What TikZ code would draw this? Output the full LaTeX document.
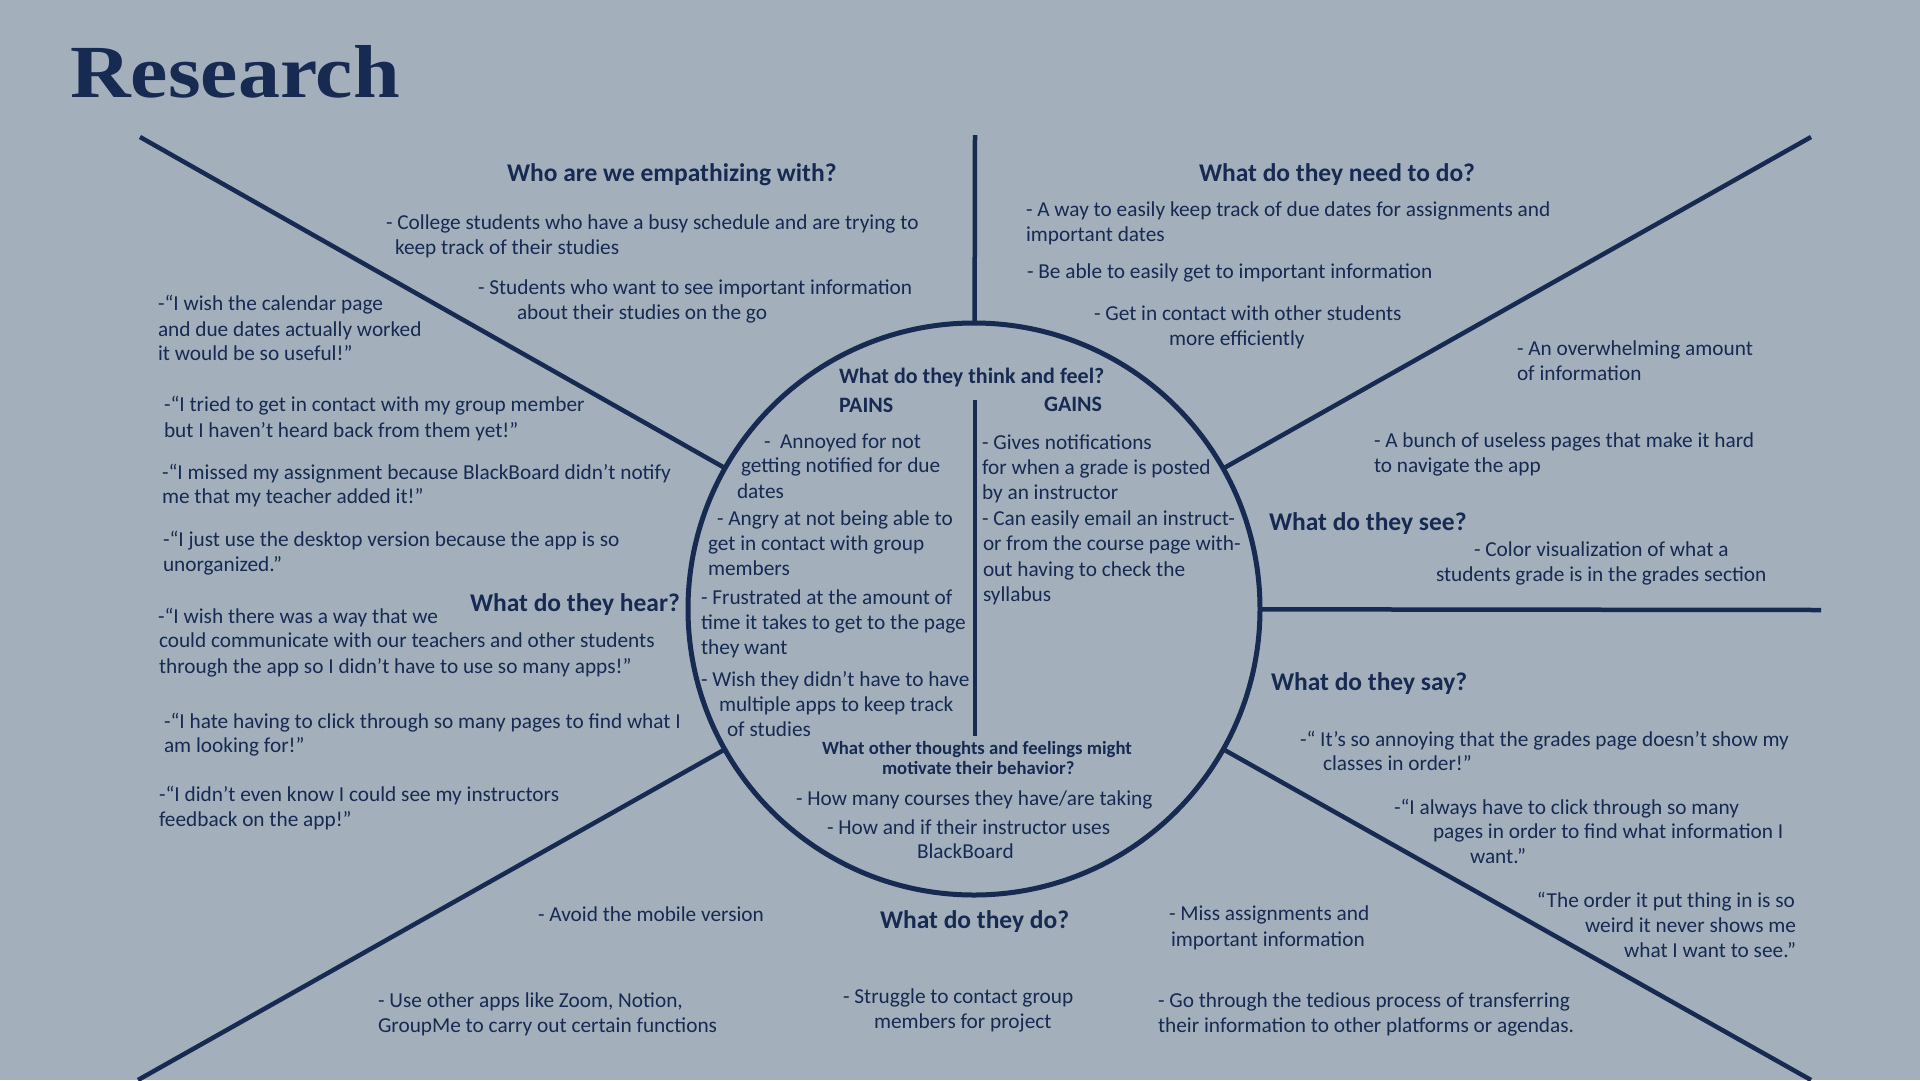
\documentclass[tikz,border=0pt]{standalone}
\usepackage{graphicx}
\usepackage{fontspec}
\setmainfont{Carlito}
\newfontfamily\titlefont{Liberation Serif}
\definecolor{bg}{RGB}{163,176,187}
\definecolor{navy}{RGB}{22,42,82}
\begin{document}
\begin{tikzpicture}[x=1pt,y=-1pt,
  tx/.style={anchor=base west,inner sep=0pt,outer sep=0pt,text=navy,font=\fontsize{21.3}{24}\selectfont},
  txr/.style={tx,anchor=base east},
  hd/.style={tx,font=\fontsize{25.5}{30}\selectfont\bfseries},
  hdc/.style={tx,font=\fontsize{22}{26}\selectfont\bfseries},
  hds/.style={tx,font=\fontsize{18.7}{22}\selectfont\bfseries},
  spoke/.style={draw=navy,line width=4.5pt},
]
\fill[bg] (0,0) rectangle (1920,1080);
\useasboundingbox (0,0) rectangle (1920,1080);

% title
\node[anchor=base west,inner sep=0pt,text=navy] (title) at (70,97.5)
  {\scalebox{1.12}[1]{\titlefont\bfseries\fontsize{75}{80}\selectfont Research}};

% central circle and spokes
\node[circle,draw=navy,line width=5pt,minimum size=572pt,inner sep=0pt,outer sep=0pt] (C) at (974,609) {};
\coordinate (eTop) at (975,135);
\coordinate (eUL) at (140,137);
\coordinate (eUR) at (1811,137);
\coordinate (eR) at (1821,610);
\coordinate (eLL) at (138,1080);
\coordinate (eLR) at (1811,1080);
\draw[spoke] (C) -- (eTop);
\draw[spoke] (C) -- (eUL);
\draw[spoke] (C) -- (eUR);
\draw[spoke] (C) -- (eR);
\draw[spoke] (C) -- (eLL);
\draw[spoke] (C) -- (eLR);
\coordinate (dA) at (975,400);
\coordinate (dB) at (975,736);
\draw[draw=navy,line width=3.5pt] (dA) -- (dB);

% headings
\node[hd] (hWho) at (507,181) {Who are we empathizing with?};
\node[hd] (hNeed) at (1199,181) {What do they need to do?};
\node[hd] (hSee) at (1269,530) {What do they see?};
\node[hd] (hHear) at (470,611) {What do they hear?};
\node[hd] (hSay) at (1271,690) {What do they say?};
\node[hd] (hDo) at (880,928) {What do they do?};
\node[hdc] (hThink) at (839,383) {What do they think and feel?};
\node[hdc] (hPains) at (839,412) {PAINS};
\node[hdc] (hGains) at (1044,411) {GAINS};
\node[hds] (hOther1) at (822,754) {What other thoughts and feelings might};
\node[hds] (hOther2) at (882,774) {motivate their behavior?};

% top: who
\node[tx] (w1) at (386,229) {- College students who have a busy schedule and are trying to};
\node[tx] (w2) at (395,254) {keep track of their studies};
\node[tx] (w3) at (478,294) {- Students who want to see important information};
\node[tx] (w4) at (517,319) {about their studies on the go};

% top: need
\node[tx] (n1) at (1026,216) {- A way to easily keep track of due dates for assignments and};
\node[tx] (n2) at (1026,241) {important dates};
\node[tx] (n3) at (1027,278) {- Be able to easily get to important information};
\node[tx] (n4) at (1094,320) {- Get in contact with other students};
\node[tx] (n5) at (1169,345) {more efficiently};

% right: see
\node[tx] (s1) at (1517,355) {- An overwhelming amount};
\node[tx] (s2) at (1517,380) {of information};
\node[tx] (s3) at (1374,447) {- A bunch of useless pages that make it hard};
\node[tx] (s4) at (1374,472) {to navigate the app};
\node[tx] (s5) at (1474,556) {- Color visualization of what a};
\node[tx] (s6) at (1436,581) {students grade is in the grades section};

% right: say
\node[tx] (y1) at (1300,746) {-“ It’s so annoying that the grades page doesn’t show my};
\node[tx] (y2) at (1323,770) {classes in order!”};
\node[tx] (y3) at (1394,814) {-“I always have to click through so many};
\node[tx] (y4) at (1433,838) {pages in order to find what information I};
\node[tx] (y5) at (1470,863) {want.”};
\node[txr] (y6) at (1795,907) {“The order it put thing in is so};
\node[txr] (y7) at (1796,932) {weird it never shows me};
\node[txr] (y8) at (1796,957) {what I want to see.”};

% bottom: do
\node[tx] (d1) at (538,921) {- Avoid the mobile version};
\node[tx] (d2) at (378,1007) {- Use other apps like Zoom, Notion,};
\node[tx] (d3) at (378,1032) {GroupMe to carry out certain functions};
\node[tx] (d4) at (843,1003) {- Struggle to contact group};
\node[tx] (d5) at (874,1028) {members for project};
\node[tx] (d6) at (1169,920) {- Miss assignments and};
\node[tx] (d7) at (1171,946) {important information};
\node[tx] (d8) at (1158,1007) {- Go through the tedious process of transferring};
\node[tx] (d9) at (1158,1032) {their information to other platforms or agendas.};

% left: hear
\node[tx] (h1) at (158,310) {-“I wish the calendar page};
\node[tx] (h2) at (158,336) {and due dates actually worked};
\node[tx] (h3) at (158,360) {it would be so useful!”};
\node[tx] (h4) at (164,411) {-“I tried to get in contact with my group member};
\node[tx] (h5) at (164,437) {but I haven’t heard back from them yet!”};
\node[tx] (h6) at (162,479) {-“I missed my assignment because BlackBoard didn’t notify};
\node[tx] (h7) at (162,503) {me that my teacher added it!”};
\node[tx] (h8) at (163,546) {-“I just use the desktop version because the app is so};
\node[tx] (h9) at (163,571) {unorganized.”};
\node[tx] (h10) at (158,623) {-“I wish there was a way that we};
\node[tx] (h11) at (159,647) {could communicate with our teachers and other students};
\node[tx] (h12) at (159,673) {through the app so I didn’t have to use so many apps!”};
\node[tx] (h13) at (164,728) {-“I hate having to click through so many pages to find what I};
\node[tx] (h14) at (164,752) {am looking for!”};
\node[tx] (h15) at (159,801) {-“I didn’t even know I could see my instructors};
\node[tx] (h16) at (159,826) {feedback on the app!”};

% circle: pains
\node[tx] (p1) at (764,448) {-\ \ Annoyed for not};
\node[tx] (p2) at (741,472) {getting notified for due};
\node[tx] (p3) at (737,498) {dates};
\node[tx] (p4) at (717,525) {- Angry at not being able to};
\node[tx] (p5) at (708,550) {get in contact with group};
\node[tx] (p6) at (708,575) {members};
\node[tx] (p7) at (701,604) {- Frustrated at the amount of};
\node[tx] (p8) at (701,629) {time it takes to get to the page};
\node[tx] (p9) at (701,654) {they want};
\node[tx] (p10) at (701,686) {- Wish they didn’t have to have};
\node[tx] (p11) at (719,711) {multiple apps to keep track};
\node[tx] (p12) at (727,736) {of studies};

% circle: gains
\node[tx] (g1) at (982,449) {- Gives notifications};
\node[tx] (g2) at (982,474) {for when a grade is posted};
\node[tx] (g3) at (982,499) {by an instructor};
\node[tx] (g4) at (982,525) {- Can easily email an instruct-};
\node[tx] (g5) at (983,550) {or from the course page with-};
\node[tx] (g6) at (983,576) {out having to check the};
\node[tx] (g7) at (983,601) {syllabus};

% circle: other
\node[tx] (o1) at (796,805) {- How many courses they have/are taking};
\node[tx] (o2) at (827,834) {- How and if their instructor uses};
\node[tx] (o3) at (917,858) {BlackBoard};
\end{tikzpicture}
\end{document}
